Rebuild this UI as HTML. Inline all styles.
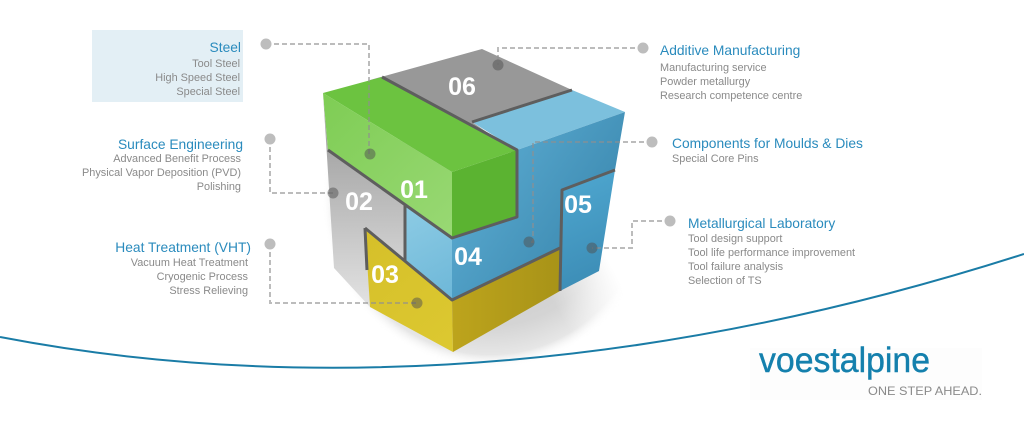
<!DOCTYPE html>
<html>
<head>
<meta charset="utf-8">
<style>
  html,body{margin:0;padding:0;background:#fff;}
  body{width:1024px;height:422px;overflow:hidden;}
  svg{display:block;}
  .t{font-family:"Liberation Sans",sans-serif;font-size:13.8px;fill:#2a8bbd;}
  .s{font-family:"Liberation Sans",sans-serif;font-size:10.9px;fill:#8a8a8a;}
  .n{font-family:"Liberation Sans",sans-serif;font-size:25px;font-weight:bold;fill:#fff;text-anchor:middle;}
</style>
</head>
<body>
<svg width="1024" height="422" viewBox="0 0 1024 422" xmlns="http://www.w3.org/2000/svg">
  <defs>
    <radialGradient id="shadow" cx="490" cy="200" r="168" gradientUnits="userSpaceOnUse">
      <stop offset="0" stop-color="#c4c4c4"/>
      <stop offset="0.75" stop-color="#d4d4d4"/>
      <stop offset="0.92" stop-color="#e6e6e6"/>
      <stop offset="1" stop-color="#ffffff" stop-opacity="0"/>
    </radialGradient>
    <clipPath id="shclip">
      <polygon points="290,140 452,140 452,240 700,240 700,400 290,400"/>
    </clipPath>
    <linearGradient id="mg" x1="555" y1="305" x2="615" y2="272" gradientUnits="userSpaceOnUse">
      <stop offset="0" stop-color="#fff"/>
      <stop offset="1" stop-color="#000"/>
    </linearGradient>
    <mask id="shmask" maskUnits="userSpaceOnUse" x="0" y="0" width="1024" height="422">
      <rect x="0" y="0" width="1024" height="422" fill="url(#mg)"/>
    </mask>
    <linearGradient id="grayL" x1="0" y1="150" x2="0" y2="300" gradientUnits="userSpaceOnUse">
      <stop offset="0" stop-color="#a8a8a8"/>
      <stop offset="0.5" stop-color="#c4c4c4"/>
      <stop offset="1" stop-color="#e0e0e0"/>
    </linearGradient>
    <linearGradient id="greenL" x1="323" y1="100" x2="452" y2="230" gradientUnits="userSpaceOnUse">
      <stop offset="0" stop-color="#7fcd55"/>
      <stop offset="1" stop-color="#98d873"/>
    </linearGradient>
    <linearGradient id="blueR" x1="470" y1="160" x2="620" y2="260" gradientUnits="userSpaceOnUse">
      <stop offset="0" stop-color="#5aaad0"/>
      <stop offset="1" stop-color="#3784ab"/>
    </linearGradient>
    <linearGradient id="blue5" x1="560" y1="180" x2="610" y2="290" gradientUnits="userSpaceOnUse">
      <stop offset="0" stop-color="#4ea6cf"/>
      <stop offset="1" stop-color="#3a8ab3"/>
    </linearGradient>
    <linearGradient id="blue4L" x1="405" y1="210" x2="452" y2="300" gradientUnits="userSpaceOnUse">
      <stop offset="0" stop-color="#8ccbe4"/>
      <stop offset="1" stop-color="#6db7d8"/>
    </linearGradient>
    <linearGradient id="yelF" x1="452" y1="300" x2="560" y2="300" gradientUnits="userSpaceOnUse">
      <stop offset="0" stop-color="#bda41c"/>
      <stop offset="1" stop-color="#a89318"/>
    </linearGradient>
    <linearGradient id="yelL" x1="365" y1="240" x2="452" y2="340" gradientUnits="userSpaceOnUse">
      <stop offset="0" stop-color="#d6c02a"/>
      <stop offset="1" stop-color="#dcc830"/>
    </linearGradient>
  </defs>

  <!-- Steel box background -->
  <rect x="92" y="30" width="151" height="72" fill="#e3eff5"/>

  <!-- logo faint background -->
  <rect x="750" y="348" width="232" height="52" fill="#fdfdfd"/>

  <!-- shadow -->
  <g clip-path="url(#shclip)">
    <circle cx="490" cy="200" r="168" fill="url(#shadow)" mask="url(#shmask)"/>
  </g>

  <!-- cube faces -->
  <polygon points="328,150 405,205 405,261 365,228 370,307 334,268 323,93" fill="url(#grayL)"/>
  <polygon points="370,80 482,49 572,90 472,122 522,156 370,100" fill="#989898"/>
  <polygon points="323,93 382,77 517,150 452,172" fill="#6cc340"/>
  <polygon points="323,93 452,172 452,238 328,150" fill="url(#greenL)"/>
  <polygon points="452,172 517,150 517,217 452,238" fill="#5bb331"/>
  <polygon points="472,122 572,90 625,112 517,150" fill="#7cc0dd"/>
  <polygon points="517,150 625,112 615,170 563,190 560,248 452,300 452,238 517,217" fill="url(#blueR)"/>
  <polygon points="405,205 452,238 452,300 405,261" fill="url(#blue4L)"/>
  <polygon points="563,190 615,170 599,271 560,291" fill="url(#blue5)"/>
  <polygon points="365,228 452,300 453,352 370,307" fill="url(#yelL)"/>
  <polygon points="452,300 560,248 560,291 453,352" fill="url(#yelF)"/>

  <!-- borders -->
  <g fill="none" stroke="#5e5e5e" stroke-width="3" stroke-linejoin="round">
    <polyline points="382,77 517,150 517,217 452,238 328,150"/>
    <line x1="472" y1="122" x2="572" y2="90"/>
    <line x1="405" y1="205" x2="405" y2="261"/>
    <polyline points="365,228 452,300 560,248"/>
    <line x1="365" y1="228" x2="367" y2="270"/>
    <polyline points="615,170 562,190 560,291"/>
  </g>

  <!-- numbers -->
  <text class="n" x="462" y="95">06</text>
  <text class="n" x="414" y="198">01</text>
  <text class="n" x="359" y="210">02</text>
  <text class="n" x="578" y="213">05</text>
  <text class="n" x="468" y="265">04</text>
  <text class="n" x="385" y="283">03</text>

  <!-- dashed connectors -->
  <g fill="none" stroke="#8f8f8f" stroke-opacity="0.6" stroke-width="2" stroke-dasharray="5,3">
    <polyline points="266,44 369,44 369,154"/>
    <polyline points="270,139 270,193 333,193"/>
    <polyline points="270,244 270,303 417,303"/>
    <polyline points="643,48 498,48 498,65"/>
    <polyline points="652,142 533,142 533,242 529,242"/>
    <polyline points="670,221 632,221 632,248 592,248"/>
  </g>

  <!-- dots on white -->
  <g fill="#bdbdbd">
    <circle cx="266" cy="44" r="5.5"/>
    <circle cx="270" cy="139" r="5.5"/>
    <circle cx="270" cy="244" r="5.5"/>
    <circle cx="643" cy="48" r="5.5"/>
    <circle cx="652" cy="142" r="5.5"/>
    <circle cx="670" cy="221" r="5.5"/>
  </g>
  <!-- dots on cube -->
  <g fill="#505050" fill-opacity="0.5">
    <circle cx="370" cy="154" r="5.5"/>
    <circle cx="333" cy="193" r="5.5"/>
    <circle cx="417" cy="303" r="5.5"/>
    <circle cx="498" cy="65" r="5.5"/>
    <circle cx="529" cy="242" r="5.5"/>
    <circle cx="592" cy="248" r="5.5"/>
  </g>

  <!-- blue curve -->
  <path d="M0,337 C250,385 600,390 1024,254" fill="none" stroke="#1a7ca6" stroke-width="2"/>

  <!-- Left labels -->
  <g text-anchor="end">
    <text class="t" x="241" y="52">Steel</text>
    <text class="s" x="240" y="67">Tool Steel</text>
    <text class="s" x="240" y="81">High Speed Steel</text>
    <text class="s" x="240" y="95">Special Steel</text>

    <text class="t" x="243" y="149">Surface Engineering</text>
    <text class="s" x="241" y="162">Advanced Benefit Process</text>
    <text class="s" x="241" y="176">Physical Vapor Deposition (PVD)</text>
    <text class="s" x="241" y="190">Polishing</text>

    <text class="t" x="251" y="252">Heat Treatment (VHT)</text>
    <text class="s" x="248" y="266">Vacuum Heat Treatment</text>
    <text class="s" x="248" y="280">Cryogenic Process</text>
    <text class="s" x="248" y="294">Stress Relieving</text>
  </g>

  <!-- Right labels -->
  <text class="t" x="660" y="55">Additive Manufacturing</text>
  <text class="s" x="660" y="71">Manufacturing service</text>
  <text class="s" x="660" y="85">Powder metallurgy</text>
  <text class="s" x="660" y="99">Research competence centre</text>

  <text class="t" x="672" y="148">Components for Moulds &amp; Dies</text>
  <text class="s" x="672" y="162">Special Core Pins</text>

  <text class="t" x="688" y="228">Metallurgical Laboratory</text>
  <text class="s" x="688" y="242">Tool design support</text>
  <text class="s" x="688" y="256">Tool life performance improvement</text>
  <text class="s" x="688" y="270">Tool failure analysis</text>
  <text class="s" x="688" y="284">Selection of TS</text>

  <!-- Logo -->
  <text x="759" y="372" font-family="Liberation Sans, sans-serif" font-size="35px" fill="#1480ad" stroke="#1480ad" stroke-width="0.4" textLength="171" lengthAdjust="spacingAndGlyphs">voestalpine</text>
  <text x="868" y="395" font-family="Liberation Sans, sans-serif" font-size="12px" fill="#8a8a8a" textLength="114" lengthAdjust="spacingAndGlyphs">ONE STEP AHEAD.</text>
</svg>
</body>
</html>
